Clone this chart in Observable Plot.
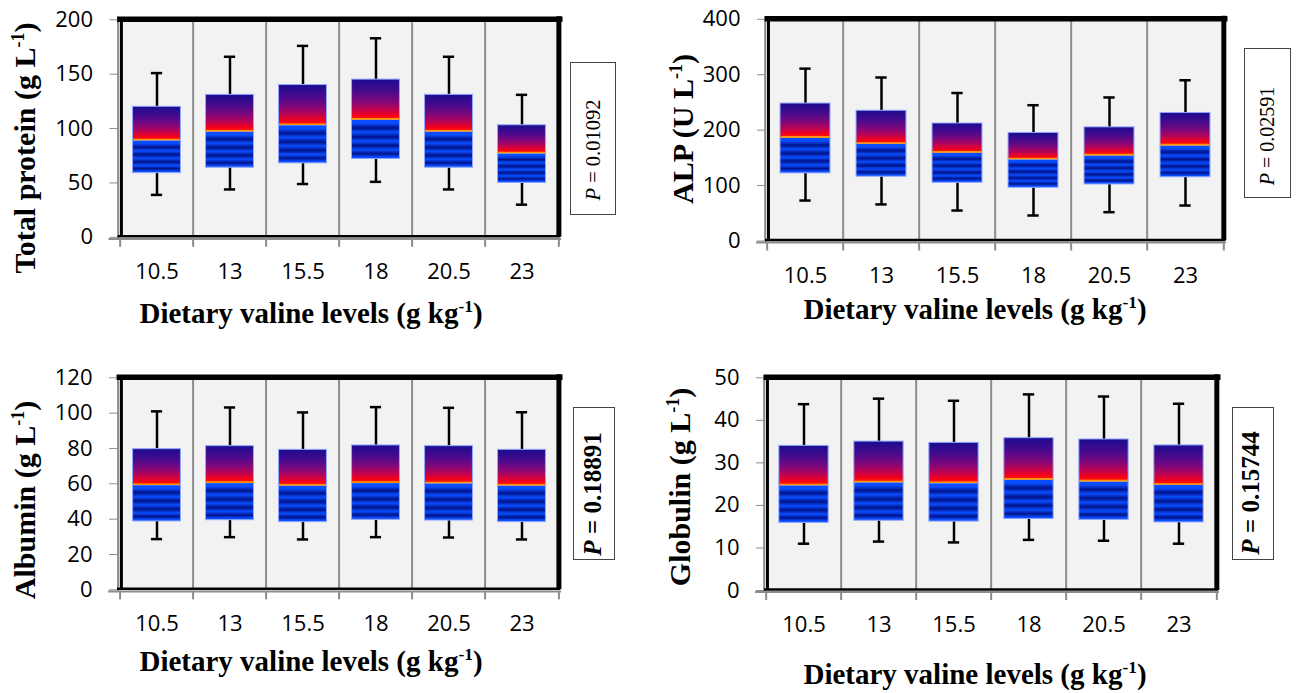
<!DOCTYPE html>
<html>
<head>
<meta charset="utf-8">
<script src="https://cdn.jsdelivr.net/npm/d3@7"></script>
<script src="https://cdn.jsdelivr.net/npm/@observablehq/plot@0.6"></script>
<style>
  body { margin: 0; background: #fff; }
  #root { position: relative; width: 1298px; height: 693px; overflow: hidden; background: #fff; }
  .ttl { position: absolute; font-family: "Liberation Serif", "Times New Roman", serif; font-weight: bold;
         font-size: 29px; line-height: 1; white-space: nowrap; transform: translate(-50%, -50%); color: #000; }
  .ttl.rot { font-size: 30px; transform: translate(-50%, -50%) rotate(-90deg); }
  sup { font-size: 0.6em; vertical-align: 0.62em; line-height: 0; }
  .pbox { position: absolute; border: 1.5px solid #444; box-sizing: border-box; background: #fff; }
  .ptxt { position: absolute; font-family: "Liberation Serif", "Times New Roman", serif; line-height: 1;
          white-space: nowrap; transform: translate(-50%, -50%) rotate(-90deg); color: #000; }
</style>
</head>
<body>
<div id="root"></div>
<script>
// ---------------- data ----------------
const categories = ["10.5", "13", "15.5", "18", "20.5", "23"];
const xTitle = "Dietary valine levels (g kg<sup>-1</sup>)";

// Total protein (g L-1)
const proteinHi  = [151, 166, 176, 183, 166, 131];
const proteinQ3  = [120, 131, 140, 145, 131, 103];
const proteinMed = [89, 97, 103, 108, 97, 77];
const proteinQ1  = [59, 64, 68, 72, 64, 50];
const proteinLo  = [39, 44, 49, 51, 44, 30];
const proteinTicks = [0, 50, 100, 150, 200];

// ALP (U L-1)
const alpHi  = [311, 295, 267, 245, 259, 290];
const alpQ3  = [248, 235, 212, 195, 205, 231];
const alpMed = [186, 175, 159, 147, 154, 172];
const alpQ1  = [122, 116, 105, 96, 102, 115];
const alpLo  = [73, 66, 55, 46, 52, 64];
const alpTicks = [0, 100, 200, 300, 400];

// Albumin (g L-1)
const albHi  = [101, 103.2, 100.4, 103.4, 103, 100.5];
const albQ3  = [79.6, 81.3, 79.2, 81.7, 81.3, 79.2];
const albMed = [59.2, 60.4, 58.9, 60.4, 60.2, 58.9];
const albQ1  = [38.7, 39.4, 38.3, 39.6, 39.2, 38.3];
const albLo  = [28.7, 29.8, 28.5, 29.8, 29.6, 28.5];
const albTicks = [0, 20, 40, 60, 80, 100, 120];

// Globulin (g L-1)
const gloHi  = [43.8, 45.1, 44.6, 46.1, 45.6, 43.9];
const gloQ3  = [34.0, 35.0, 34.7, 35.8, 35.5, 34.1];
const gloMed = [24.7, 25.4, 25.2, 26.0, 25.6, 24.8];
const gloQ1  = [15.9, 16.4, 16.2, 16.8, 16.6, 16.0];
const gloLo  = [11.0, 11.5, 11.3, 11.9, 11.7, 11.0];
const gloTicks = [0, 10, 20, 30, 40, 50];

const yTitles = ["Total protein (g L<sup>-1</sup>)", "ALP (U L<sup>-1</sup>)",
                 "Albumin (g L<sup>-1</sup>)", "Globulin (g L<sup>-1</sup>)"];
const pValues = ["0.01092", "0.02591", "0.18891", "0.15744"];

// ---------------- layout (pixels) ----------------
const layouts = [
  { ox: 0,   oy: 0,   w: 650, h: 345, L: 117.5, R: 560,  T: 19.3,  B: 236.8, ymax: 200,
    yt: [25, 148], xt: [311, 313], pbox: [570, 62, 46, 153], pt: [593, 149.5], pbold: false, pSize: 20.5 },
  { ox: 650, oy: 0,   w: 648, h: 345, L: 765,   R: 1225, T: 18.8,  B: 240.5, ymax: 400,
    yt: [683, 129], xt: [975, 309], pbox: [1244, 48, 47, 150], pt: [1267, 135.5], pbold: false, pSize: 20 },
  { ox: 0,   oy: 350, w: 650, h: 343, L: 117,   R: 560,  T: 377.3, B: 589.3, ymax: 120,
    yt: [25, 500], xt: [311, 661], pbox: [573, 407, 42, 153], pt: [592, 494], pbold: true, pSize: 25 },
  { ox: 650, oy: 350, w: 648, h: 343, L: 764,   R: 1218, T: 377.3, B: 590,   ymax: 50,
    yt: [680, 487], xt: [975, 674], pbox: [1232, 407, 42, 153], pt: [1250, 492.5], pbold: true, pSize: 25 }
];

const series = [
  [proteinLo, proteinQ1, proteinMed, proteinQ3, proteinHi, proteinTicks],
  [alpLo, alpQ1, alpMed, alpQ3, alpHi, alpTicks],
  [albLo, albQ1, albMed, albQ3, albHi, albTicks],
  [gloLo, gloQ1, gloMed, gloQ3, gloHi, gloTicks]
];

const root = document.getElementById("root");

// gradient definitions shared by all panels
const defsSvg = d3.select(root).append("svg")
  .attr("width", 0).attr("height", 0)
  .style("position", "absolute").style("left", 0).style("top", 0);
const defs = defsSvg.append("defs");
const warm = defs.append("linearGradient").attr("id", "warm")
  .attr("x1", 0).attr("y1", 0).attr("x2", 0).attr("y2", 1);
[[0, "#1b0b8f"], [0.3, "#480a8c"], [0.55, "#80077a"], [0.75, "#bf0350"], [0.9, "#f50018"], [1, "#ff2400"]]
  .forEach(([o, c]) => warm.append("stop").attr("offset", o).attr("stop-color", c));
const stripes = defs.append("linearGradient").attr("id", "stripes")
  .attr("x1", 0).attr("y1", 0).attr("x2", 0).attr("y2", 1);
const bright = "#0a4dff", dark = "#00128a";
[[0, bright], [0.1, bright], [0.22, dark], [0.33, bright], [0.45, dark], [0.56, bright],
 [0.67, dark], [0.78, bright], [0.88, dark], [0.96, bright], [1, bright]]
  .forEach(([o, c]) => stripes.append("stop").attr("offset", o).attr("stop-color", c));

const gray = "#8c8c8c";

layouts.forEach((lay, k) => {
  const [lo, q1, med, q3, hi, ticks] = series[k];
  const data = categories.map((c, i) => ({ cat: c, lo: lo[i], q1: q1[i], med: med[i], q3: q3[i], hi: hi[i] }));
  const bw = (lay.R - lay.L) / categories.length;
  const inset = bw * 0.17;
  const capInset = (bw - 12) / 2;
  const plotH = lay.B - lay.T;
  const first = [categories[0]];
  const last = [categories[categories.length - 1]];

  const svg = Plot.plot({
    width: lay.w,
    height: lay.h,
    marginLeft: lay.L - lay.ox,
    marginRight: lay.ox + lay.w - lay.R,
    marginTop: lay.T - lay.oy,
    marginBottom: lay.oy + lay.h - lay.B,
    x: { type: "band", domain: categories, padding: 0, label: null },
    y: { domain: [0, lay.ymax], label: null },
    style: { fontFamily: "'Open Sans', sans-serif", fontSize: "22px", color: "black", background: "transparent", overflow: "visible" },
    marks: [
      Plot.frame({ fill: "#f2f2f2", stroke: null }),
      Plot.ruleX(categories.slice(1), { dx: -bw / 2, stroke: gray, strokeWidth: 2 }),
      // whiskers
      Plot.ruleX(data, { x: "cat", y1: "q3", y2: "hi", stroke: "black", strokeWidth: 2.5 }),
      Plot.ruleX(data, { x: "cat", y1: "lo", y2: "q1", stroke: "black", strokeWidth: 2.5 }),
      Plot.tickY(data, { x: "cat", y: "hi", stroke: "black", strokeWidth: 2.5, insetLeft: capInset, insetRight: capInset }),
      Plot.tickY(data, { x: "cat", y: "lo", stroke: "black", strokeWidth: 2.5, insetLeft: capInset, insetRight: capInset }),
      // boxes
      Plot.barY(data, { x: "cat", y1: "q1", y2: "med", fill: "url(#stripes)", stroke: "#8ea6ff", strokeWidth: 1, insetLeft: inset, insetRight: inset }),
      Plot.barY(data, { x: "cat", y1: "med", y2: "q3", fill: "url(#warm)", stroke: "#8ea6ff", strokeWidth: 1, insetLeft: inset, insetRight: inset }),
      Plot.tickY(data, { x: "cat", y: "med", stroke: "#ff9400", strokeWidth: 1.6, dy: -1, insetLeft: inset + 0.5, insetRight: inset + 0.5 }),
      // frame / axis lines
      Plot.ruleX(first, { dx: -bw / 2 - 2, stroke: gray, strokeWidth: 2, insetBottom: -2.5, insetTop: -1 }),
      Plot.ruleY([0], { stroke: gray, strokeWidth: 2, dy: 1.6, insetLeft: -9, insetRight: -1 }),
      Plot.ruleY([0], { stroke: "black", strokeWidth: 2.5, dy: -1.1 }),
      Plot.ruleX(first, { dx: -bw / 2 + 1.3, stroke: "black", strokeWidth: 3, insetTop: -2 }),
      Plot.ruleY([lay.ymax], { stroke: "black", strokeWidth: 5.5, dy: -0.6, insetRight: -2.5, insetLeft: -0.5 }),
      Plot.ruleX(last, { dx: bw / 2, stroke: "black", strokeWidth: 5, insetTop: -3, insetBottom: 0 }),
      // x ticks at category boundaries
      Plot.ruleX(categories, { dx: -bw / 2, dy: 10, insetTop: plotH - 8, stroke: gray, strokeWidth: 2 }),
      Plot.ruleX(last, { dx: bw / 2, dy: 10, insetTop: plotH - 8, stroke: gray, strokeWidth: 2 }),
      // axes
      Plot.axisY({ ticks: ticks, tickSize: 8, tickPadding: 17, stroke: gray, fill: "black", fontSize: 22, label: null, tickFormat: d => String(d) }),
      Plot.axisX({ tickSize: 0, tickPadding: 26, fontSize: 22, label: null, fill: "black" })
    ]
  });
  svg.style.position = "absolute";
  svg.style.left = lay.ox + "px";
  svg.style.top = lay.oy + "px";
  root.appendChild(svg);

  // axis titles
  const yt = document.createElement("div");
  yt.className = "ttl rot";
  yt.style.left = lay.yt[0] + "px";
  yt.style.top = lay.yt[1] + "px";
  yt.innerHTML = yTitles[k];
  root.appendChild(yt);

  const xt = document.createElement("div");
  xt.className = "ttl";
  xt.style.left = lay.xt[0] + "px";
  xt.style.top = lay.xt[1] + "px";
  xt.innerHTML = xTitle;
  root.appendChild(xt);

  // P-value box
  const pb = document.createElement("div");
  pb.className = "pbox";
  pb.style.left = lay.pbox[0] + "px";
  pb.style.top = lay.pbox[1] + "px";
  pb.style.width = lay.pbox[2] + "px";
  pb.style.height = lay.pbox[3] + "px";
  root.appendChild(pb);

  const pt = document.createElement("div");
  pt.className = "ptxt";
  pt.style.left = lay.pt[0] + "px";
  pt.style.top = lay.pt[1] + "px";
  pt.style.fontSize = lay.pSize + "px";
  pt.style.fontWeight = lay.pbold ? "bold" : "normal";
  pt.innerHTML = "<i>P</i> = " + pValues[k];
  root.appendChild(pt);
});
</script>
</body>
</html>
